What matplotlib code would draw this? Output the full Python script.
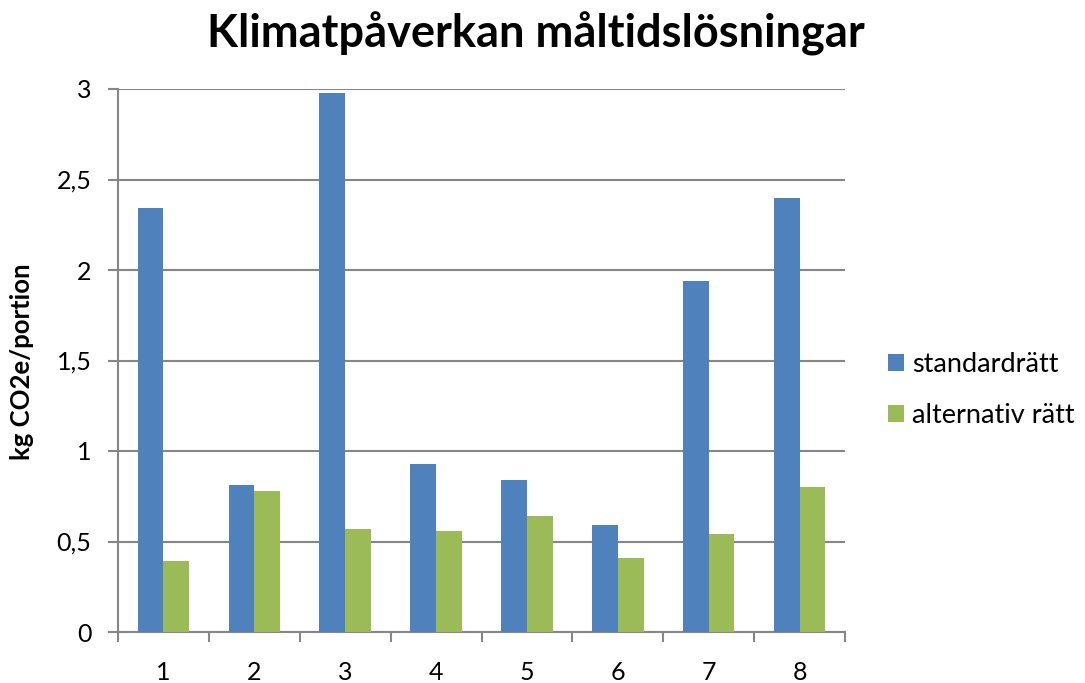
import matplotlib
matplotlib.use("Agg")
import matplotlib.pyplot as plt
import numpy as np

categories = ["1", "2", "3", "4", "5", "6", "7", "8"]
standard = [2.34, 0.81, 2.98, 0.93, 0.84, 0.59, 1.94, 2.40]
alternativ = [0.39, 0.78, 0.57, 0.56, 0.64, 0.41, 0.54, 0.80]
yticks = [0, 0.5, 1, 1.5, 2, 2.5, 3]
ytick_labels = ["0", "0,5", "1", "1,5", "2", "2,5", "3"]

plt.rcParams['font.family'] = ['Lato', 'DejaVu Sans']

W, H = 1085, 683
fig = plt.figure(figsize=(W/100, H/100), dpi=100)
ax = fig.add_axes([118/W, 51/H, 727/W, 543/H])

x = np.arange(len(categories))
w = 0.284
grid_c = "#868686"
ax.bar(x - w/2, standard, w, color="#4F81BD", label="standardrätt", zorder=3)
ax.bar(x + w/2, alternativ, w, color="#9BBB59", label="alternativ rätt", zorder=3)

ax.set_xlim(-0.5, len(categories) - 0.5)
ax.set_ylim(0, 3)
ax.set_yticks(yticks)
ax.set_yticklabels(ytick_labels, fontsize=18)
ax.yaxis.grid(True, color=grid_c, linewidth=1.5, zorder=0)
ax.set_xticks(x)
ax.set_xticklabels(categories, fontsize=18)
ax.tick_params(axis='x', which='major', length=0, pad=21)
ax.set_xticks(np.arange(-0.5, len(categories)), minor=True)
ax.tick_params(axis='x', which='minor', length=7, width=1.5, color=grid_c, direction='out')
ax.tick_params(axis='y', length=7, width=1.5, color=grid_c, direction='out', pad=12)

for s in ['top', 'right']:
    ax.spines[s].set_visible(False)
for s in ['left', 'bottom']:
    ax.spines[s].set_color(grid_c)
    ax.spines[s].set_linewidth(1.5)

fig.text(22/W, 1 - 362/H, "kg CO2e/portion", rotation=90, ha='center', va='center',
         fontsize=18.5, fontweight='bold')

fig.text(536/W, 1 - 47/H, "Klimatpåverkan måltidslösningar", ha='center', va='baseline',
         fontsize=32.5, fontweight='bold')

leg = fig.legend(loc='center left', bbox_to_anchor=(888/W, 1 - 390/H), frameon=False,
                 fontsize=19.5, handlelength=0.59, handleheight=0.59, handletextpad=0.3,
                 labelspacing=0.93, borderpad=0, borderaxespad=0)

fig.savefig("out.png", dpi=100)
